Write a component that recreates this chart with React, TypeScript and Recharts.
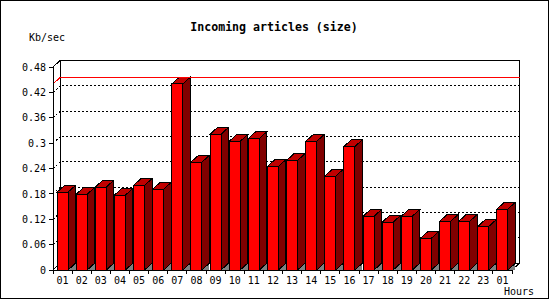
import React from 'react';
import { BarChart, Bar, XAxis, YAxis, CartesianGrid, ReferenceArea, ReferenceLine } from 'recharts';

const hours = ['01', '02', '03', '04', '05', '06', '07', '08', '09', '10', '11', '12', '13', '14', '15', '16', '17', '18', '19', '20', '21', '22', '23', '01'];
const sizes = [0.184, 0.179, 0.196, 0.177, 0.2, 0.191, 0.44, 0.255, 0.321, 0.304, 0.311, 0.245, 0.259, 0.304, 0.222, 0.292, 0.127, 0.113, 0.127, 0.075, 0.115, 0.115, 0.103, 0.144];
const yTicks = [0, 0.06, 0.12, 0.18, 0.24, 0.3, 0.36, 0.42, 0.48];

const title = 'Incoming articles (size)';
const yUnit = 'Kb/sec';
const xUnit = 'Hours';

const data = hours.map((h, i) => ({ h, v: sizes[i] }));
const maxVal = Math.max(...sizes);

const DX = 7.5;
const DY = 6.75;
const MONO = '"DejaVu Sans Mono", "Liberation Mono", monospace';

const Bar3D = (props: any) => {
  const { x, y, width: w, height: h } = props;
  if (w == null || h == null) return null;
  const b = y + h;
  const r = x + w;
  return (
    <g>
      <polygon points={`${r},${b} ${r + DX},${b - DY} ${r + DX},${b}`} fill="#808080" stroke="none" />
      <polygon points={`${r},${y} ${r + DX},${y - DY} ${r + DX},${b - DY} ${r},${b}`} fill="#800000" stroke="#000" />
      <polygon points={`${x},${y} ${x + DX},${y - DY} ${r + DX},${y - DY} ${r},${y}`} fill="#c00000" stroke="#000" />
      <rect x={x} y={y} width={w} height={h} fill="#ff0000" stroke="#000" />
    </g>
  );
};

const gridLine = (p: any) => {
  const { x1, x2, y1 } = p;
  if (p.y != null && p.height != null) {
    if (Math.abs(y1 - p.y) < 1 || Math.abs(y1 - (p.y + p.height)) < 1) return <g key={p.key} />;
  }
  return (
    <polyline
      key={p.key}
      points={`${x1},${y1} ${x1 + DX},${y1 - DY} ${x2 + DX},${y1 - DY}`}
      fill="none"
      stroke="#000"
      strokeDasharray="2 2"
    />
  );
};

const BackPlane = (p: any) => {
  const { x, y, width: w, height: h } = p;
  const b = y + h;
  const r = x + w;
  return (
    <g fill="none" stroke="#000">
      <polyline points={`${x},${y} ${x + DX},${y - DY} ${r + DX},${y - DY} ${r + DX},${b - DY} ${r},${b}`} />
      <polyline points={`${x + DX},${y - DY} ${x + DX},${b - DY} ${r + DX},${b - DY}`} />
      <line x1={x} y1={b} x2={x + DX} y2={b - DY} />
    </g>
  );
};

const MaxLine = (p: any) => {
  const { x1, x2, y1 } = p;
  return <polyline points={`${x1},${y1} ${x1 + DX},${y1 - DY} ${x2 + DX},${y1 - DY}`} fill="none" stroke="#ff0000" />;
};

const XTick = (p: any) => {
  const { x, y, payload, index } = p;
  const off = payload && payload.offset != null ? payload.offset : 0;
  const axisY = y - 4;
  return (
    <g>
      <line x1={x - off} y1={axisY} x2={x - off} y2={axisY + 4} stroke="#000" />
      {index === hours.length - 1 ? <line x1={x + off} y1={axisY} x2={x + off} y2={axisY + 4} stroke="#000" /> : null}
      <text x={x} y={y} dy={9.5} textAnchor="middle" fontFamily={MONO} fontSize={10} fill="#000">
        {payload.value}
      </text>
    </g>
  );
};

const YTick = (p: any) => {
  const { x, y, payload } = p;
  return (
    <text x={x} y={y} dy={3.7} textAnchor="end" fontFamily={MONO} fontSize={10} fill="#000">
      {String(payload.value)}
    </text>
  );
};

export default function App() {
  return (
    <div style={{ position: 'relative', width: 550, height: 300, background: '#fff', shapeRendering: 'crispEdges' as any }}>
      <style>{'body{margin:0}'}</style>
      <BarChart
        width={550}
        height={300}
        data={data}
        margin={{ top: 67, right: 38, left: 0, bottom: 0 }}
        barSize={11}
      >
        <ReferenceArea y1={0} y2={0.48} shape={BackPlane} ifOverflow="visible" />
        <CartesianGrid vertical={false} horizontal={gridLine} />
        <ReferenceLine y={maxVal} shape={MaxLine} ifOverflow="visible" />
        <XAxis
          dataKey="h"
          interval={0}
          height={30}
          tickSize={4}
          tickMargin={0}
          tickLine={false}
          axisLine={{ stroke: '#000' }}
          tick={<XTick />}
        />
        <YAxis
          type="number"
          domain={[0, 0.48]}
          ticks={yTicks}
          width={53}
          tickSize={4}
          tickMargin={3}
          axisLine={{ stroke: '#000' }}
          tickLine={{ stroke: '#000' }}
          tick={<YTick />}
        />
        <Bar dataKey="v" shape={<Bar3D />} isAnimationActive={false} />
      </BarChart>
      <svg width={550} height={300} style={{ position: 'absolute', left: 0, top: 0, pointerEvents: 'none' }}>
        <text x={274} y={31} textAnchor="middle" fontFamily={MONO} fontWeight="bold" fontSize={11.6} fill="#000">
          {title}
        </text>
        <text x={29} y={41} fontFamily={MONO} fontSize={10} fill="#000">
          {yUnit}
        </text>
        <text x={504} y={295} fontFamily={MONO} fontSize={10} fill="#000">
          {xUnit}
        </text>
        <rect x={0.5} y={0.5} width={548} height={298} fill="none" stroke="#000" strokeWidth={1.5} />
      </svg>
    </div>
  );
}
